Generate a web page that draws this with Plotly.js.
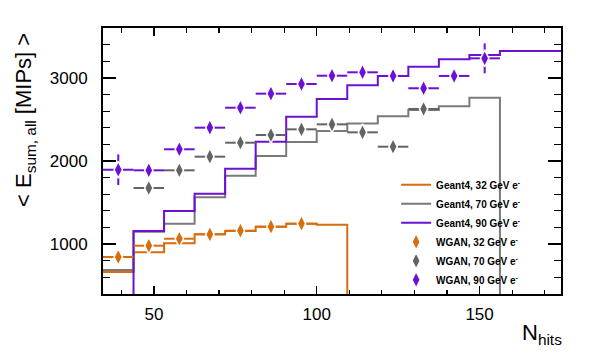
<!DOCTYPE html>
<html>
<head>
<meta charset="utf-8">
<script src="https://cdn.plot.ly/plotly-3.0.1.min.js"></script>
<style>
  html, body { margin: 0; padding: 0; background: #fff; }
  #plot { width: 610px; height: 359px; }
</style>
</head>
<body>
<div id="plot"></div>
<script>
// binning of the N_hits histograms (visible part)
const binLow = 34.375;
const binWidth = 9.375;

// Geant4 mean energy sum per N_hits bin
const g4_32 = [665, 902, 1010, 1118, 1158, 1210, 1246, 1234, 0, 0, 0, 0, 0, 0, 0];
const g4_70 = [689, 1150, 1246, 1563, 1823, 2060, 2229, 2361, 2450, 2537, 2614, 2658, 2762, 0, 0];
const g4_90 = [0, 1158, 1398, 1605, 1907, 2232, 2533, 2746, 2910, 3023, 3135, 3223, 3275, 3323, 3323];

// WGAN points: first bin index + values + vertical errors
const w32_first = 0;
const w32 = [845, 981, 1065, 1118, 1162, 1210, 1246];
const w32_err = [30, 30, 30, 30, 30, 30, 30];
const w70_first = 1;
const w70 = [1675, 1888, 2052, 2220, 2313, 2381, 2441, 2345, 2172, 2626];
const w70_err = [30, 30, 30, 30, 30, 30, 30, 30, 30, 30];
const w90_first = 0;
const w90 = [1895, 1888, 2141, 2401, 2641, 2810, 2926, 3026, 3067, 3023, 2875, 3023, 3235];
const w90_err = [185, 40, 40, 40, 40, 40, 40, 40, 40, 40, 40, 40, 180];

const labels32 = ['Geant4, 32 GeV e<sup>-</sup>', 'WGAN, 32 GeV e<sup>-</sup>'];
const labels70 = ['Geant4, 70 GeV e<sup>-</sup>', 'WGAN, 70 GeV e<sup>-</sup>'];
const labels90 = ['Geant4, 90 GeV e<sup>-</sup>', 'WGAN, 90 GeV e<sup>-</sup>'];

const ORANGE = '#d76d0b';
const GREY_LINE = '#7a7a7a';
const GREY_MARK = '#636363';
const PURPLE = '#6b10d4';

function stepTrace(vals, color, name) {
    const x = [], y = [];
    for (let i = 0; i < vals.length; i++) {
        x.push(binLow + i * binWidth);
        y.push(vals[i]);
    }
    x.push(binLow + vals.length * binWidth);
    y.push(vals[vals.length - 1]);
    return {
        type: 'scatter', mode: 'lines', x: x, y: y, name: name,
        line: { shape: 'hv', color: color, width: 2 },
        hoverinfo: 'skip'
    };
}

function pointTrace(first, vals, errs, color, name) {
    const x = vals.map((v, i) => binLow + (first + i + 0.5) * binWidth);
    return {
        type: 'scatter', mode: 'markers', x: x, y: vals, name: name,
        marker: { symbol: 'diamond-tall', size: 12, color: color,
                  line: { color: '#ffffff', width: 1.5 } },
        error_x: { type: 'constant', value: binWidth / 2, color: color, thickness: 2, width: 0 },
        error_y: { type: 'data', array: errs, color: color, thickness: 2, width: 0 },
        cliponaxis: false
    };
}

const data = [
    stepTrace(g4_32, ORANGE, labels32[0]),
    stepTrace(g4_70, GREY_LINE, labels70[0]),
    stepTrace(g4_90, PURPLE, labels90[0]),
    pointTrace(w32_first, w32, w32_err, ORANGE, labels32[1]),
    pointTrace(w70_first, w70, w70_err, GREY_MARK, labels70[1]),
    pointTrace(w90_first, w90, w90_err, PURPLE, labels90[1])
];

const FONT = 'Liberation Sans, Arial, Helvetica, sans-serif';

const axisCommon = {
    showgrid: false, zeroline: false,
    showline: true, linecolor: '#000', linewidth: 2, mirror: 'allticks',
    ticks: 'inside', tickcolor: '#000', tickwidth: 1.5,
    tickfont: { family: FONT, size: 17, color: '#000' }
};

const layout = {
    width: 610, height: 359,
    margin: { l: 103, r: 49, t: 28, b: 65 },
    paper_bgcolor: '#fff', plot_bgcolor: '#fff',
    font: { family: FONT, color: '#000' },
    showlegend: true,
    legend: {
        x: 0.64, y: 0.465, xanchor: 'left', yanchor: 'top',
        bgcolor: 'rgba(0,0,0,0)', borderwidth: 0,
        font: { family: FONT, size: 10, color: '#000', weight: 'bold' },
        tracegroupgap: 0, itemwidth: 30
    },
    xaxis: Object.assign({}, axisCommon, {
        range: [34.375, 175], tick0: 0, dtick: 50, ticklen: 8,
        minor: { dtick: 10, ticklen: 4.5, ticks: 'inside', tickcolor: '#000', tickwidth: 1.2, showgrid: false },
        ticklabelstandoff: 4
    }),
    yaxis: Object.assign({}, axisCommon, {
        range: [400, 3600], tick0: 0, dtick: 1000, ticklen: 13,
        minor: { dtick: 200, ticklen: 7, ticks: 'inside', tickcolor: '#000', tickwidth: 1.2, showgrid: false },
        ticklabelstandoff: 10
    }),
    annotations: [
        {
            text: '< E<sub>sum, all</sub> [MIPs] >', textangle: -90,
            xref: 'paper', yref: 'paper', x: -0.17, y: 0.655,
            xanchor: 'center', yanchor: 'middle', showarrow: false,
            font: { family: FONT, size: 22, color: '#000' }
        },
        {
            text: 'N<sub>hits</sub>',
            xref: 'paper', yref: 'paper', x: 1.007, y: -0.15,
            xanchor: 'right', yanchor: 'middle', showarrow: false,
            font: { family: FONT, size: 22, color: '#000' }
        }
    ]
};

Plotly.newPlot('plot', data, layout, { displayModeBar: false, staticPlot: true });
</script>
</body>
</html>
